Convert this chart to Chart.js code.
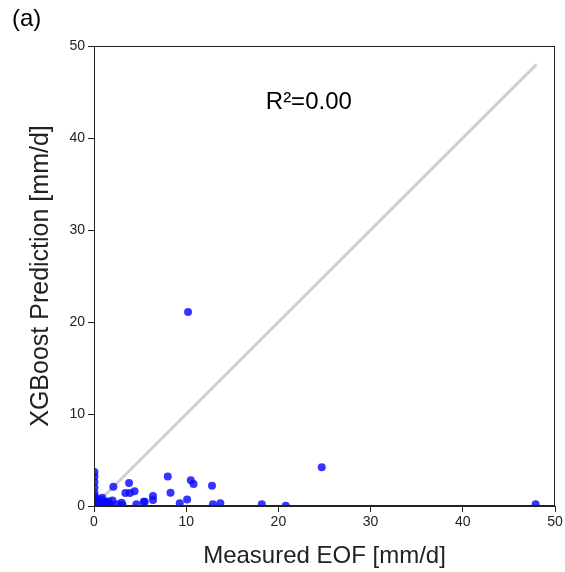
<!DOCTYPE html>
<html><head><meta charset="utf-8">
<script src="https://cdn.jsdelivr.net/npm/chart.js@4/dist/chart.umd.min.js"></script>
<style>html,body{margin:0;padding:0;background:#fff}#wrap{position:relative;width:565px;height:572px}</style>
</head><body><div id="wrap"><canvas id="c"></canvas></div>
<script>
const measured = [0.05,0.05,0.05,0.05,0.05,0.1,0.1,0.2,0.3,0.3,0.5,0.6,0.8,1.0,1.2,1.5,1.7,2.0,2.1,0.4,0.7,0.9,1.3,1.8,2.5,3.0,3.1,3.4,3.8,3.9,4.4,4.6,5.4,5.5,6.4,6.4,8.0,8.3,9.3,10.1,10.2,10.5,10.8,12.8,12.9,13.7,18.2,20.8,24.7,47.9,0.2,0.4,1.1,1.6];
const predicted = [3.7,3.2,2.6,2.0,1.4,1.0,0.6,0.3,0.1,0.8,0.4,0.2,0.1,0.3,0.5,0.2,0.1,0.6,2.1,0.05,0.7,0.9,0.4,0.1,0.2,0.35,0.1,1.4,2.5,1.4,1.6,0.2,0.47,0.47,1.1,0.65,3.2,1.45,0.3,0.7,21.1,2.8,2.4,2.2,0.2,0.3,0.2,0.03,4.2,0.2,0.5,0.3,0.2,0.5];
const lineX = [0, 48];
const xTicks = [0,10,20,30,40,50];
const yTicks = [0,10,20,30,40,50];
const r2Label = 'R\u00B2=0.00';

const pts = measured.map((x,i)=>({x, y: predicted[i]}));
const linePts = lineX.map(v=>({x:v,y:v}));
const FONT = '"Liberation Sans", Arial, sans-serif';

const boxPlugin = {
  id:'box',
  afterDraw(chart){
    const {ctx, chartArea:a} = chart;
    ctx.save();
    ctx.strokeStyle='#222'; ctx.lineWidth=1;
    ctx.strokeRect(a.left+0.5, a.top+0.5, a.right-a.left-1, a.bottom-a.top-1);
    ctx.fillStyle='#000';
    ctx.font='24px ' + FONT;
    ctx.textAlign='left'; ctx.textBaseline='middle';
    ctx.fillText('(a)', 12, 19);
    ctx.textAlign='center';
    ctx.fillText(r2Label, chart.scales.x.getPixelForValue(23.3), chart.scales.y.getPixelForValue(43.9));
    ctx.restore();
  }
};

new Chart(document.getElementById('c'), {
  type:'scatter',
  data:{datasets:[
    {type:'line', data:linePts, borderColor:'#cfcfcf', borderWidth:3, pointRadius:0, order:2},
    {data:pts, backgroundColor:'rgba(10,10,255,0.82)', borderWidth:0, pointRadius:4, order:1}
  ]},
  options:{
    responsive:true, maintainAspectRatio:false, animation:false,
    layout:{padding:{top:46,right:10,left:0,bottom:0}},
    plugins:{legend:{display:false}, tooltip:{enabled:false}},
    scales:{
      x:{type:'linear', min:0, max:50,
        afterBuildTicks(s){s.ticks=xTicks.map(v=>({value:v}));},
        ticks:{color:'#222', font:{size:14, family:FONT}, padding:2},
        grid:{drawOnChartArea:false, tickLength:6, color:'#222'},
        border:{color:'#222'},
        title:{display:true, text:'Measured EOF [mm/d]', color:'#222', font:{size:24, family:FONT, lineHeight:1}, padding:{top:4,bottom:4}},
        afterFit(s){s.height=66;}
      },
      y:{type:'linear', min:0, max:50,
        afterBuildTicks(s){s.ticks=yTicks.map(v=>({value:v}));},
        ticks:{color:'#222', font:{size:14, family:FONT}, padding:3},
        grid:{drawOnChartArea:false, tickLength:6, color:'#222'},
        border:{color:'#222'},
        title:{display:true, text:'XGBoost Prediction [mm/d]', color:'#222', font:{size:25, family:FONT, lineHeight:1}, padding:{top:29,bottom:4}},
        afterFit(s){s.width=94;}
      }
    }
  },
  plugins:[boxPlugin]
});
</script></body></html>
